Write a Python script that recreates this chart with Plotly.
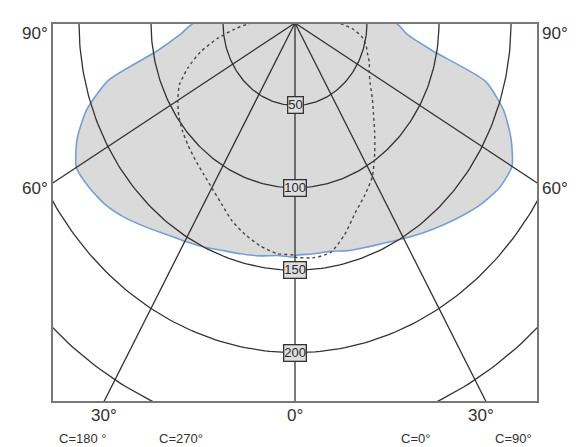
import numpy as np
import plotly.graph_objects as go

# ---- data (luminous intensity, cd/klm) ----
angles = [0, 5, 10, 15, 20, 25, 30, 35, 40, 45, 50, 55, 60, 65, 70, 75, 80, 85, 90]
c0 = [141, 140.7, 140.7, 143, 144.8, 147.3, 151, 155.3, 160, 165, 170, 173.7, 174, 165.5, 154, 137, 97, 78, 70]
c180 = [142, 141.6, 143.5, 145, 146.9, 150, 153, 156.5, 161.5, 167, 171.7, 174.3, 175.3, 167, 154, 134, 97, 80, 70]
c90 = [142, 143, 141.5, 133, 122.5, 115, 107.5, 96.5, 86, 77, 70, 63.7, 59.5, 57, 53.5, 51, 47, 40, 30]
c270 = [141, 140.5, 137.5, 133, 127.8, 121, 115.5, 111.3, 108, 105, 102, 98.5, 94, 88.5, 79, 68, 55, 42, 30]
grid_radii = [50, 100, 150, 200, 250]
label_radii = [50, 100, 150, 200]
radial_angles = [-60, -30, 0, 30, 60]
side_labels = ["90°", "60°"]
bottom_labels = ["30°", "0°", "30°"]
plane_labels = ["C=180 °", "C=270°", "C=0°", "C=90°"]


def to_xy(r_list, ang_list, side):
    r = np.asarray(r_list, dtype=float)
    a = np.radians(np.asarray(ang_list, dtype=float))
    return side * r * np.sin(a), -r * np.cos(a)


fig = go.Figure()

# gray filled C0-C180 curve
xl, yl = to_xy(c180[::-1], angles[::-1], -1)
xr, yr = to_xy(c0, angles, 1)
fx = np.concatenate([[0], xl, xr, [0]])
fy = np.concatenate([[0], yl, yr, [0]])
fig.add_trace(go.Scatter(x=fx, y=fy, mode="lines", fill="toself",
                         fillcolor="rgb(218,218,218)",
                         line=dict(color="rgb(115,160,210)", width=1.6, shape="spline", smoothing=0.6),
                         hoverinfo="skip", showlegend=False))

# grid circles
for rr in grid_radii:
    t = np.radians(np.arange(-90, 90.5, 1))
    fig.add_trace(go.Scatter(x=rr * np.sin(t), y=-rr * np.cos(t), mode="lines",
                             line=dict(color="rgb(50,50,50)", width=1.3),
                             hoverinfo="skip", showlegend=False))

# radial lines
for a in radial_angles:
    ar = np.radians(a)
    fig.add_trace(go.Scatter(x=[0, 500 * np.sin(ar)], y=[0, -500 * np.cos(ar)], mode="lines",
                             line=dict(color="rgb(50,50,50)", width=1.3),
                             hoverinfo="skip", showlegend=False))

# dotted C90-C270 curve
dl_x, dl_y = to_xy(c270[::-1], angles[::-1], -1)
dr_x, dr_y = to_xy(c90, angles, 1)
dx = np.concatenate([[0], dl_x, dr_x, [0]])
dy = np.concatenate([[0], dl_y, dr_y, [0]])
fig.add_trace(go.Scatter(x=dx, y=dy, mode="lines",
                         line=dict(color="rgb(70,70,70)", width=1.4, dash="dot", shape="spline", smoothing=0.6),
                         hoverinfo="skip", showlegend=False))

# radius labels
for rr in label_radii:
    fig.add_annotation(x=0, y=-rr, text=str(rr), showarrow=False,
                       xanchor="center", yanchor="middle",
                       font=dict(family="Liberation Sans, Arial", size=13, color="rgb(40,40,40)"),
                       bgcolor="rgb(222,222,222)", bordercolor="rgb(50,50,50)", borderwidth=1.3, borderpad=0)

fontf = "Liberation Sans, Arial"
# page geometry (the page body adds an 8px offset)
W, H = 579, 447
OFF = 8
PL, PR, PT, PB = 52, 538, 23, 402  # plot box in page pixels
pw, ph = PR - PL, PB - PT
L = PL - OFF
T = PT - OFF
R = W - L - pw
B = H - T - ph


def px(xp):
    return (xp - PL) / pw


def py(yp):
    return 1 - (yp - PT) / ph


def label(text, xp, yp, size):
    fig.add_annotation(x=px(xp), y=py(yp), xref="paper", yref="paper", text=text, showarrow=False,
                       xanchor="center", yanchor="middle",
                       font=dict(family=fontf, size=size, color="rgb(50,50,50)"))


for lab, yp in zip(side_labels, [33, 188]):
    label(lab, 35, yp, 17)
    label(lab, 555, yp, 17)
for lab, xp in zip(bottom_labels, [104, 295, 481]):
    label(lab, xp, 415, 17)
for lab, xp in zip(plane_labels, [82, 181, 415, 513]):
    label(lab, xp, 438, 13)

# frame
fig.add_shape(type="rect", xref="paper", yref="paper", x0=0, y0=0, x1=1, y1=1,
              line=dict(color="rgb(120,120,120)", width=2), layer="above")

sx = 1.44
sy = 1.648
fig.update_layout(
    width=W, height=H,
    margin=dict(l=L, r=R, t=T, b=B),
    paper_bgcolor="white", plot_bgcolor="white",
    xaxis=dict(range=[-(pw / 2) / sx, (pw / 2) / sx], visible=False, fixedrange=True),
    yaxis=dict(range=[-ph / sy, 0], visible=False, fixedrange=True),
    showlegend=False,
)

fig.write_html("out.html")
